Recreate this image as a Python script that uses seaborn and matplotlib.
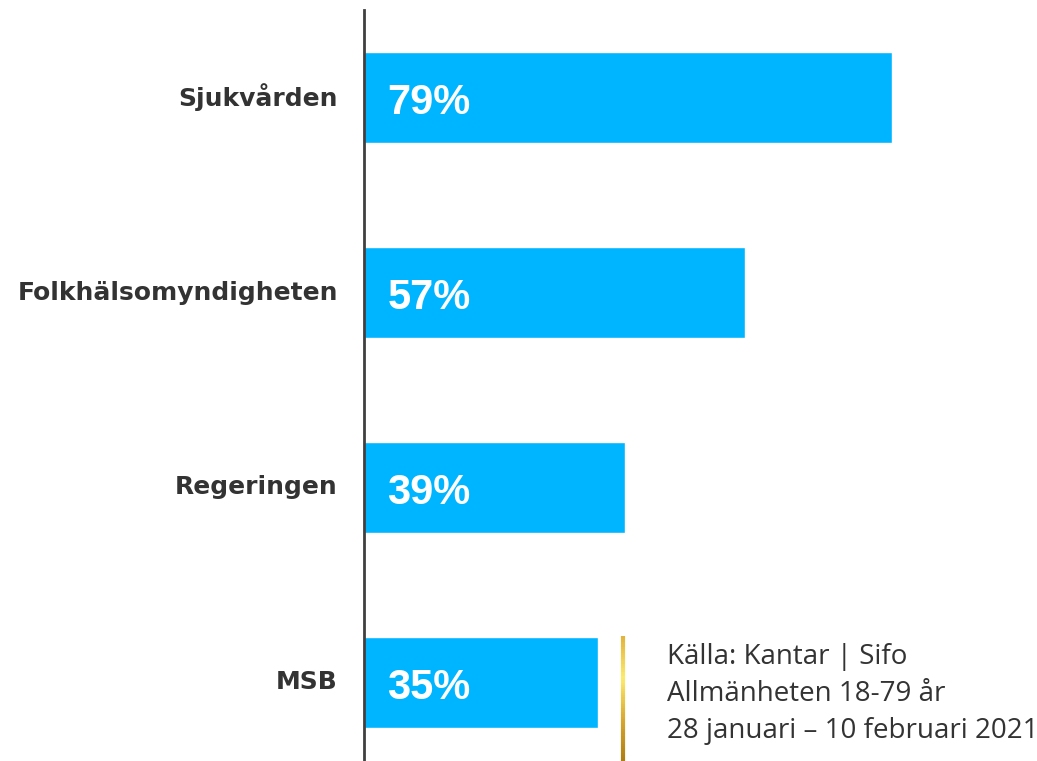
import numpy as np
import pandas as pd
import matplotlib
matplotlib.use("Agg")
import matplotlib.pyplot as plt
import seaborn as sns
from matplotlib.collections import LineCollection

# data
categories = ["Sjukvården", "Folkhälsomyndigheten", "Regeringen", "MSB"]
values = [79, 57, 39, 35]
source_lines = ["Källa: Kantar | Sifo", "Allmänheten 18-79 år", "28 januari – 10 februari 2021"]

df = pd.DataFrame({"category": categories, "value": values})

sns.set_theme(style="white")
plt.rcParams["font.family"] = ["Liberation Sans", "DejaVu Sans"]

fig = plt.figure(figsize=(10.37, 7.61), dpi=100)
ax = fig.add_axes([364 / 1037, 0, 668 / 1037, 1 - 10 / 761])

sns.barplot(data=df, x="value", y="category", orient="h", color="#00B5FF",
            saturation=1, width=0.467, ax=ax)

ax.set_xlim(0, 100)
ax.set_ylim(3.403, -0.449)
ax.set_xlabel("")
ax.set_ylabel("")
ax.set_xticks([])
ax.set_yticks([])
for s in ["top", "right", "bottom"]:
    ax.spines[s].set_visible(False)
ax.spines["left"].set_color("#404040")
ax.spines["left"].set_linewidth(2)

for i, (cat, v) in enumerate(zip(categories, values)):
    ax.text(-3.9, i, cat, ha="right", va="center", fontsize=18,
            fontweight="bold", color="#333333", family=["DejaVu Sans"])
    ax.text(3.5, i + 0.03, f"{v}%", ha="left", va="center", fontsize=30,
            fontweight="bold", color="white")

# gold gradient line next to the source note
y = np.linspace(1 - 636 / 761, 0, 60)
pts = np.array([[623 / 1037] * len(y), y]).T.reshape(-1, 1, 2)
segs = np.concatenate([pts[:-1], pts[1:]], axis=1)
cmap = matplotlib.colors.LinearSegmentedColormap.from_list(
    "gold", ["#E2B43C", "#FCEB6C", "#D9A830", "#B07E10"])
lc = LineCollection(segs, colors=cmap(np.linspace(0, 1, len(segs))),
                    linewidths=3, transform=fig.transFigure)
fig.add_artist(lc)

for k, line in enumerate(source_lines):
    fig.text(667 / 1037, 1 - (664 + 37 * k) / 761, line, fontsize=20,
             family=["Open Sans", "DejaVu Sans"], color="#333333", va="baseline")

fig.savefig("out.png", dpi=100)
